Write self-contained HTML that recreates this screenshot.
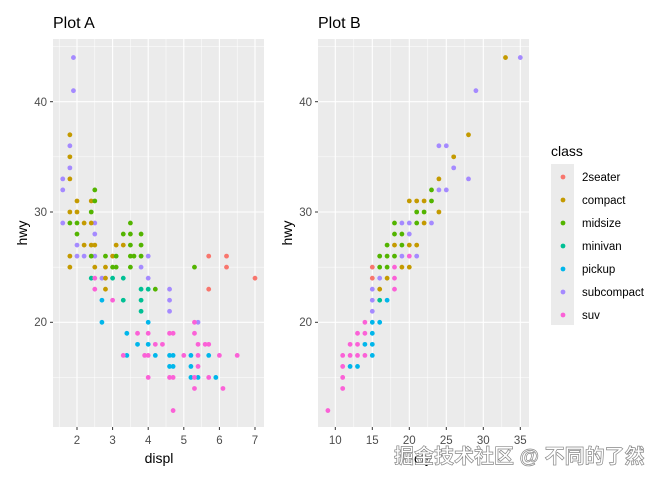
<!DOCTYPE html>
<html><head><meta charset="utf-8"><style>
body{margin:0;background:#fff;width:672px;height:480px;overflow:hidden}
svg{display:block;font-family:"Liberation Sans",Arial,sans-serif}
.t{fill:#4d4d4d;font-size:11.5px}
.ax{fill:#000;font-size:14px}
</style></head><body>
<svg id="s" width="672" height="480" xmlns="http://www.w3.org/2000/svg">
<rect x="53" y="39" width="211" height="388" fill="#ebebeb"/>
<rect x="318" y="39" width="211" height="388" fill="#ebebeb"/>
<g id="grid"></g>
<g id="pts"></g>
<text x="53" y="28" font-size="16" fill="#000">Plot A</text>
<text x="318" y="28" font-size="16" fill="#000">Plot B</text>
<g class="t" text-anchor="end">
<text x="47" y="106">40</text><text x="47" y="216">30</text><text x="47" y="326">20</text>
<text x="312" y="106">40</text><text x="312" y="216">30</text><text x="312" y="326">20</text>
</g>
<g class="t" text-anchor="middle">
<text x="77" y="444">2</text><text x="112.6" y="444">3</text><text x="148.2" y="444">4</text><text x="183.8" y="444">5</text><text x="219.4" y="444">6</text><text x="255" y="444">7</text>
<text x="335.3" y="444">10</text><text x="372.3" y="444">15</text><text x="409.3" y="444">20</text><text x="446.3" y="444">25</text><text x="483.3" y="444">30</text><text x="520.3" y="444">35</text>
</g>
<text class="ax" x="159" y="463" text-anchor="middle">displ</text>
<text class="ax" x="423" y="463" text-anchor="middle">cty</text>
<text class="ax" transform="translate(27,233) rotate(-90)" text-anchor="middle">hwy</text>
<text class="ax" transform="translate(292,233) rotate(-90)" text-anchor="middle">hwy</text>
<text x="551" y="156" font-size="14" fill="#000">class</text>
<rect x="551" y="164" width="23" height="161" fill="#ebebeb"/>
<g id="lg"></g>
<g id="leg" font-size="11.5" fill="#000">
<text x="582" y="181">2seater</text><text x="582" y="204">compact</text><text x="582" y="227">midsize</text><text x="582" y="250">minivan</text><text x="582" y="273">pickup</text><text x="582" y="296">subcompact</text><text x="582" y="319">suv</text>
</g>
<g id="tk"></g>
<text x="394" y="463" font-size="20" font-weight="bold" fill="#fff" stroke="#888" stroke-width="0.7" font-family="'Liberation Sans','Noto Sans CJK SC',sans-serif">掘金技术社区 @ 不同的了然</text>
</svg>
<script>
const C={r:"#F8766D",c:"#C49A00",m:"#53B400",v:"#00C094",p:"#00B6EB",s:"#A58AFF",u:"#FB61D7"};
const NS="http://www.w3.org/2000/svg";
function el(p,t,a){const e=document.createElementNS(NS,t);for(const k in a)e.setAttribute(k,a[k]);p.appendChild(e);return e;}
const g=document.getElementById("grid"),P=document.getElementById("pts"),L=document.getElementById("lg"),T=document.getElementById("tk");
const Y=h=>322.3-(h-20)*11.03;
const XA=d=>77+(d-2)*35.6, XB=c=>335.3+(c-10)*7.4;
function hl(x0,x1,y,w){el(g,"line",{x1:x0,x2:x1,y1:y,y2:y,stroke:"#fff","stroke-width":w});}
function vl(x,w){el(g,"line",{x1:x,x2:x,y1:39,y2:427,stroke:"#fff","stroke-width":w});}
[15,25,35,45].forEach(h=>{hl(53,264,Y(h),0.5);hl(318,529,Y(h),0.5)});
[20,30,40].forEach(h=>{hl(53,264,Y(h),1.1);hl(318,529,Y(h),1.1);
 el(T,"line",{x1:50,x2:53,y1:Y(h),y2:Y(h),stroke:"#333","stroke-width":1});
 el(T,"line",{x1:315,x2:318,y1:Y(h),y2:Y(h),stroke:"#333","stroke-width":1});});
[1.5,2.5,3.5,4.5,5.5,6.5].forEach(d=>vl(XA(d),0.5));
[2,3,4,5,6,7].forEach(d=>{vl(XA(d),1.1);el(T,"line",{x1:XA(d),x2:XA(d),y1:427,y2:430,stroke:"#333","stroke-width":1});});
[12.5,17.5,22.5,27.5,32.5].forEach(c=>vl(XB(c),0.5));
[10,15,20,25,30,35].forEach(c=>{vl(XB(c),1.1);el(T,"line",{x1:XB(c),x2:XB(c),y1:427,y2:430,stroke:"#333","stroke-width":1});});
const A={s:[[1.9,44],[1.9,41],[1.8,36],[1.8,34],[1.6,33],[1.6,32],[1.6,29],[2,27],[2,26],[2.2,26],[2.5,29],[2.5,28],[2.5,26],[2.7,24],[3.8,25],[4,26],[4,24],[4.6,23],[4.6,22],[4.6,21],[5.4,20]],
c:[[1.8,37],[1.8,35],[1.8,33],[1.8,30],[1.8,26],[1.8,25],[2,31],[2,30],[2.2,29],[2.4,31],[2.4,29],[2.4,27],[2.2,27],[2.5,27],[2.5,25],[2.8,25],[2.8,24],[2.8,23],[3,26],[3.1,27],[3.3,27]],
m:[[2.5,32],[2.5,31],[2.4,30],[2,29],[1.8,29],[2,28],[2.4,26],[2.8,26],[3,25],[3.1,25],[3.1,26],[3.5,29],[3.3,28],[3.5,28],[3.8,28],[3.5,27],[3.8,27],[3.5,26],[3.6,26],[3.8,26],[3.5,25],[4.2,23],[5.3,25]],
v:[[2.4,24],[3,24],[3.3,24],[3.3,22],[3.8,23],[3.8,22],[3.8,21],[4,23]],
p:[[2.7,22],[2.7,20],[3.4,19],[3.4,17],[3.7,18],[4,20],[4,18],[4.2,17],[4.6,17],[4.7,17],[4.6,16],[4.7,16],[5.2,17],[5.2,16],[5.2,15],[5.4,15],[5.7,17],[5.9,15]],
u:[[2.5,24],[2.5,23],[3,22],[3.3,17],[3.7,19],[4,19],[4.2,18],[4.4,18],[3.9,17],[4,17],[4,15],[4.6,19],[4.7,19],[4.6,15],[4.7,15],[4.7,12],[5,17],[5.3,20],[5.3,19],[5.4,18],[5.6,18],[5.7,18],[5.4,17],[5.4,16],[5.3,15],[5.3,14],[5.7,15],[6,17],[6.1,14],[6.5,17]],
r:[[5.7,26],[6.2,26],[6.2,25],[5.7,23],[7,24]]};
const B={u:[[9,12],[11,14],[11,15],[11,16],[11,17],[12,17],[13,17],[14,17],[12,18],[13,18],[13,19],[14,19],[14,20],[18,25],[18,24],[18,23],[20,26]],
p:[[12,16],[13,16],[15,17],[14,18],[15,18],[15,19],[15,20],[16,20],[17,22]],
v:[[16,22]],
s:[[15,23],[15,22],[15,21],[16,24],[19,29],[20,29],[20,28],[19,26],[21,26],[23,29],[24,32],[25,32],[24,36],[25,36],[26,34],[28,33],[29,41],[35,44]],
r:[[15,25],[15,24]],
c:[[16,23],[17,24],[18,27],[19,25],[20,25],[20,27],[21,27],[20,31],[21,31],[22,31],[22,29],[24,30],[24,33],[26,35],[28,37],[33,44]],
m:[[16,26],[17,26],[18,26],[16,25],[17,25],[17,27],[19,27],[18,28],[19,28],[18,29],[21,29],[21,30],[22,30],[23,31],[23,32]]};
for(const k in A)A[k].forEach(([d,h])=>el(P,"circle",{cx:XA(d),cy:Y(h),r:2.4,fill:C[k]}));
for(const k in B)B[k].forEach(([c,h])=>el(P,"circle",{cx:XB(c),cy:Y(h),r:2.4,fill:C[k]}));
["r","c","m","v","p","s","u"].forEach((k,i)=>el(L,"circle",{cx:563,cy:177+i*23,r:2.4,fill:C[k]}));
</script>
</body></html>
